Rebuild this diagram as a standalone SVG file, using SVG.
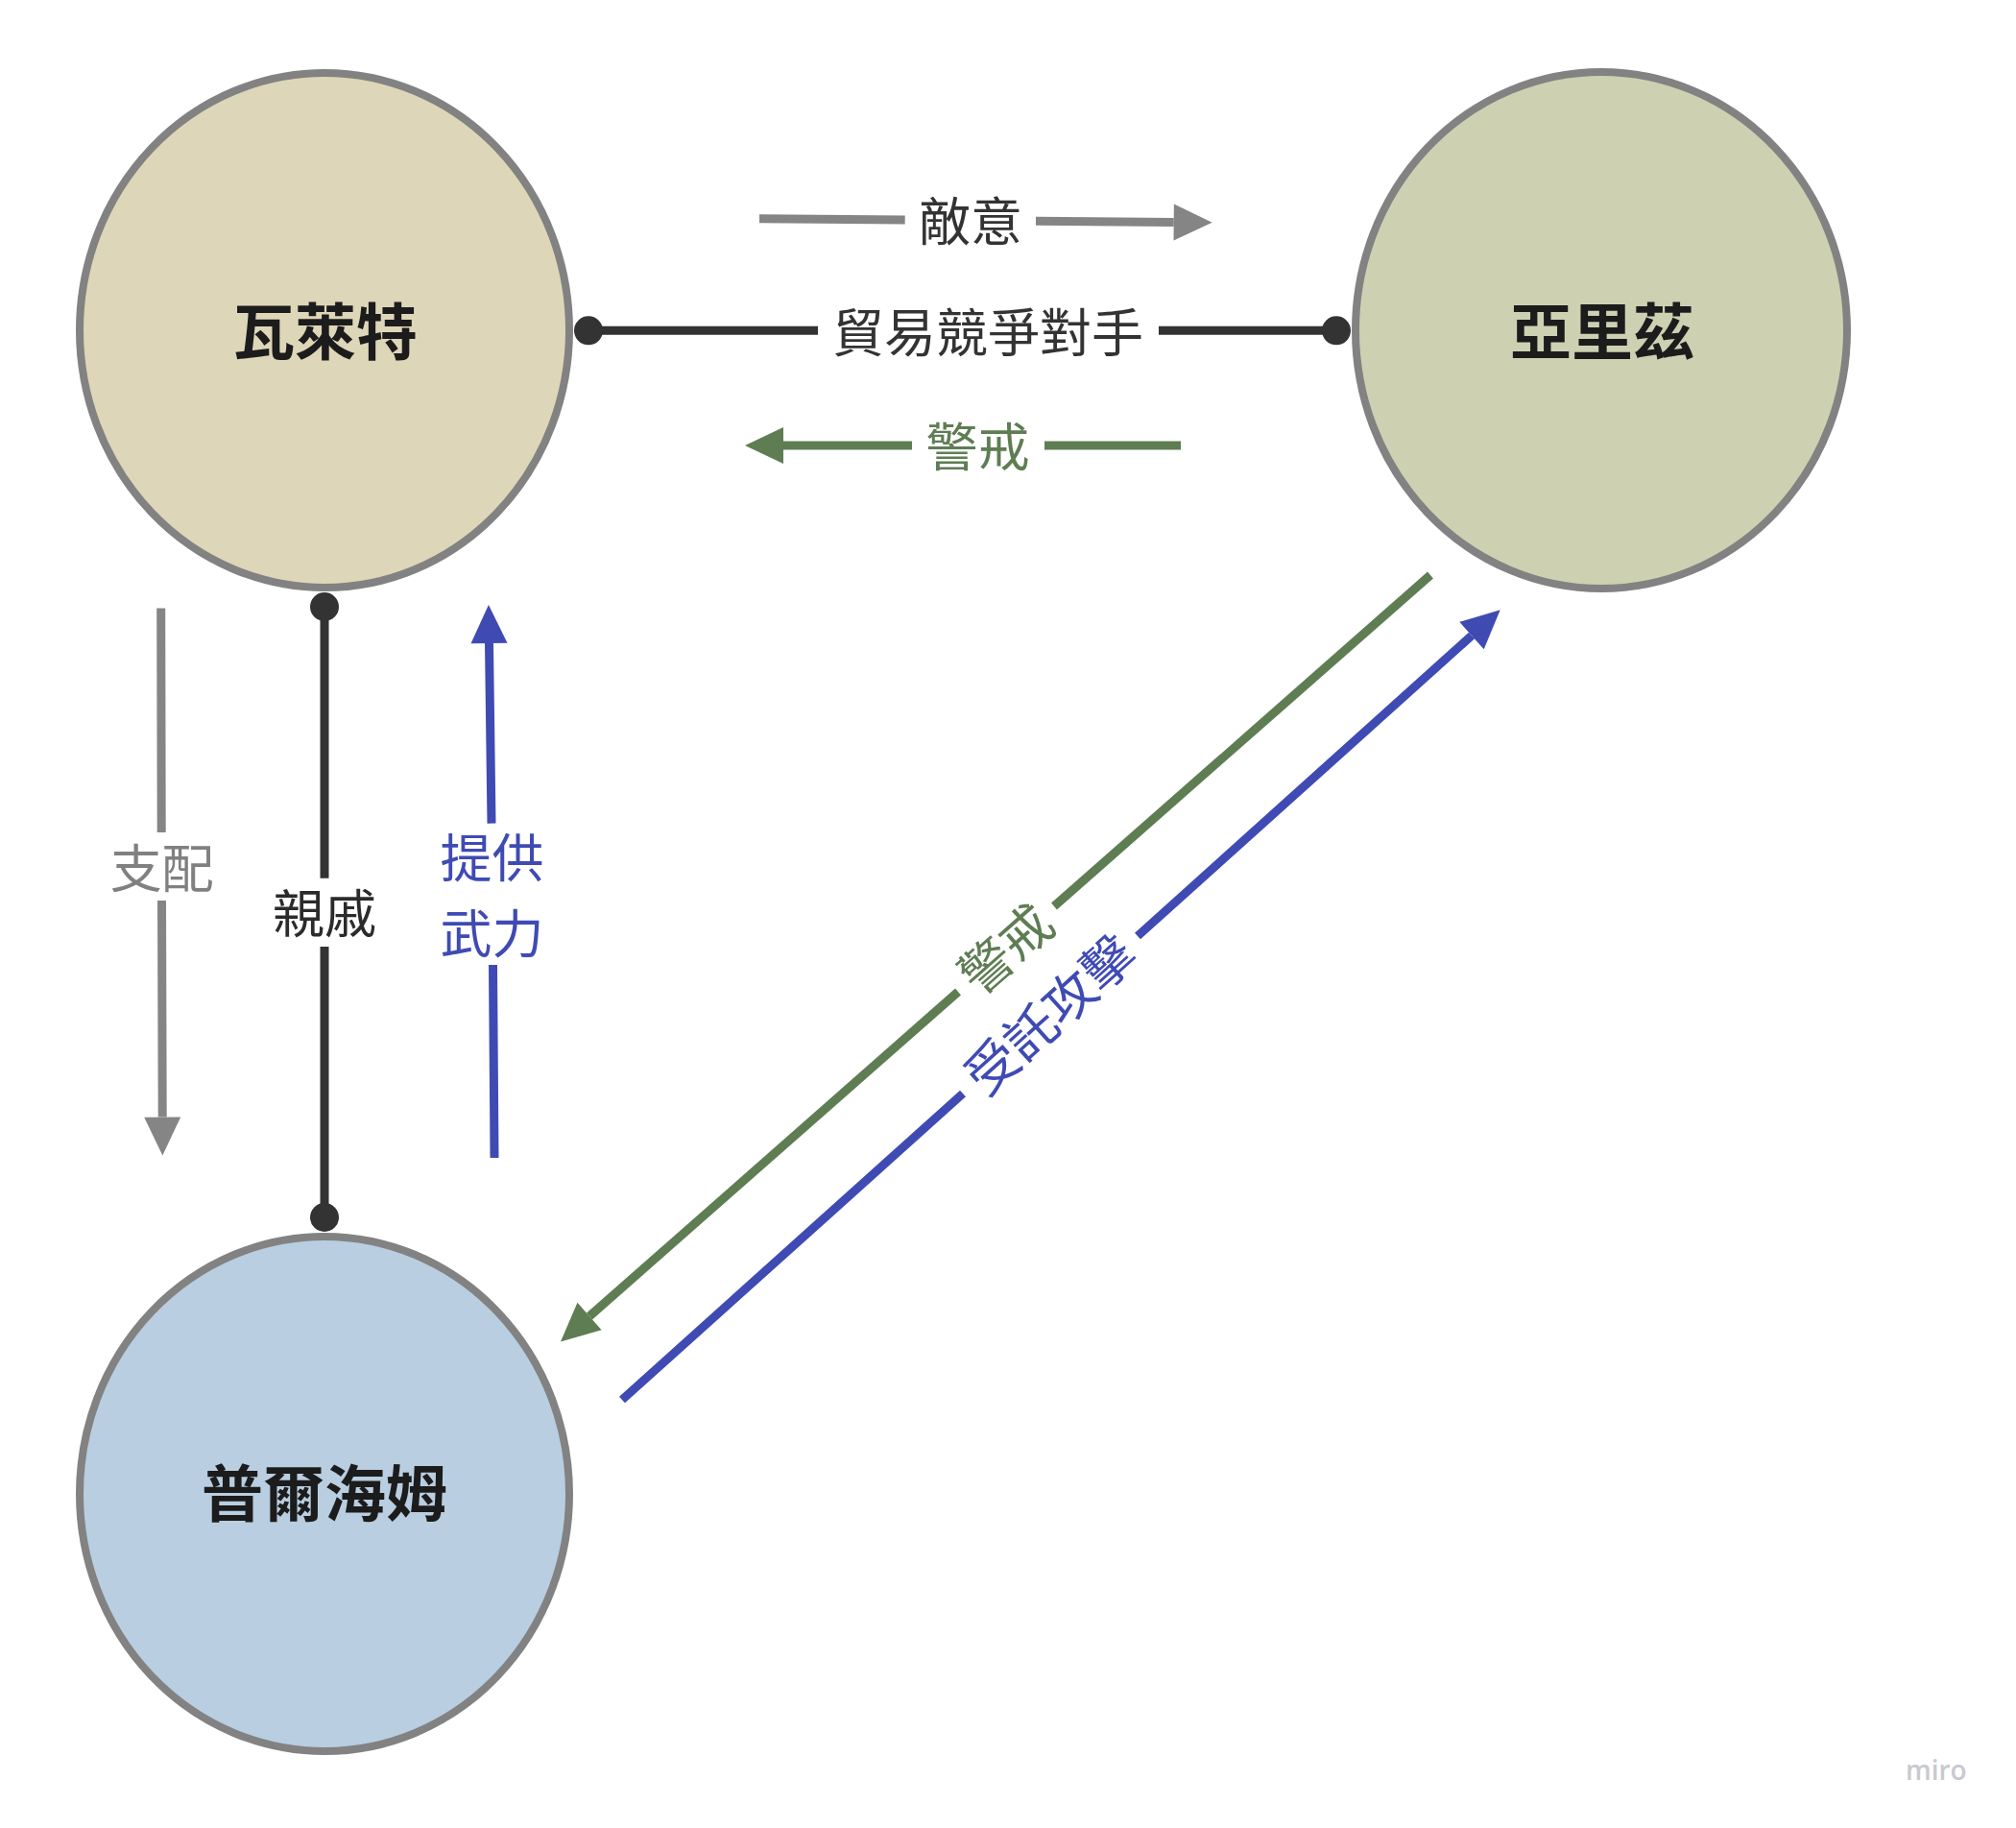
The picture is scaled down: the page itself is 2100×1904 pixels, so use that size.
<svg xmlns="http://www.w3.org/2000/svg" width="2100" height="1904" viewBox="0 0 2100 1904">
<style>
.node{stroke:#828282;stroke-width:8}
.nlabel{font-family:"Noto Sans CJK TC","Noto Sans CJK SC",sans-serif;font-weight:700;font-size:64px;fill:#1c1c1c;text-anchor:middle;dominant-baseline:central}
.clabel{font-family:"Noto Sans CJK TC","Noto Sans CJK SC",sans-serif;font-weight:400;font-size:54px;text-anchor:middle;dominant-baseline:central}
.c{fill:none;stroke-width:9;stroke-linecap:butt}
.gray{stroke:#858585}
.dark{stroke:#333333}
.green{stroke:#5e7d53}
.blue{stroke:#3f4bb3}
</style>
<defs>
<marker id="ah-gray" markerUnits="userSpaceOnUse" viewBox="0 -20 40 40" refX="0" refY="0" markerWidth="40" markerHeight="40" orient="auto" overflow="visible"><path d="M0,-19 L40,0 L0,19 z" fill="#858585"/></marker>
<marker id="ah-green" markerUnits="userSpaceOnUse" viewBox="0 -20 40 40" refX="0" refY="0" markerWidth="40" markerHeight="40" orient="auto" overflow="visible"><path d="M0,-19 L40,0 L0,19 z" fill="#5e7d53"/></marker>
<marker id="ah-blue" markerUnits="userSpaceOnUse" viewBox="0 -20 40 40" refX="0" refY="0" markerWidth="40" markerHeight="40" orient="auto" overflow="visible"><path d="M0,-19 L40,0 L0,19 z" fill="#3f4bb3"/></marker>
</defs>
<rect x="0" y="0" width="2100" height="1904" fill="#ffffff"/>

<g id="node-walter">
<ellipse class="node" cx="338" cy="344" rx="255" ry="268" fill="#ded6b8"/>
<text class="nlabel" x="339" y="341">瓦萊特</text>
</g>
<g id="node-aliz">
<ellipse class="node" cx="1668" cy="344" rx="256" ry="269" fill="#cdd1b2"/>
<text class="nlabel" x="1669" y="341">亞里茲</text>
</g>
<g id="node-prelheim">
<ellipse class="node" cx="338" cy="1556" rx="255" ry="268" fill="#b9cee0"/>
<text class="nlabel" x="338" y="1551">普爾海姆</text>
</g>

<g id="connectors">
<g id="e-hostility">
<path class="c gray" d="M791,227.7 L942.7,229 M1079,230.2 L1222.7,231.4" marker-end="url(#ah-gray)"/>
<text class="clabel" x="1011" y="227" fill="#333333">敵意</text>
</g>
<g id="e-rival">
<path class="c dark" d="M613,344.3 L852,344.3 M1207,344.3 L1392,344.3"/>
<circle cx="613" cy="344.3" r="15" fill="#333333"/>
<circle cx="1392" cy="344.3" r="15" fill="#333333"/>
<text class="clabel" x="1029" y="343" fill="#333333">貿易競爭對手</text>
</g>
<g id="e-wary-h">
<path class="c green" d="M1230,464 L1088,464 M950,464 L816,464" marker-end="url(#ah-green)"/>
<text class="clabel" x="1018.5" y="462.5" fill="#5e7d53">警戒</text>
</g>
<g id="e-dominate">
<path class="c gray" d="M167.7,633.5 L168.2,867 M168.5,938 L169.2,1163.6" marker-end="url(#ah-gray)"/>
<text class="clabel" x="168.7" y="901" fill="#808080">支配</text>
</g>
<g id="e-kin">
<path class="c dark" d="M338,632 L338,914.7 M338,986 L338,1268"/>
<circle cx="338" cy="632" r="15" fill="#333333"/>
<circle cx="338" cy="1268" r="15" fill="#333333"/>
<text class="clabel" x="338" y="948.5" fill="#2b2b2b" font-weight="500">親戚</text>
</g>
<g id="e-force">
<path class="c blue" d="M515,1206 L513.5,1005 M512,857.6 L509.5,670" marker-end="url(#ah-blue)"/>
<text class="clabel" x="512.5" y="890.5" fill="#3f4bb3">提供</text>
<text class="clabel" x="512.5" y="969.5" fill="#3f4bb3">武力</text>
</g>
<g id="e-wary-d">
<path class="c green" d="M1490,599 L1098,944 M998,1033 L614,1371" marker-end="url(#ah-green)"/>
<text class="clabel" x="1045.5" y="985.5" fill="#5e7d53" transform="rotate(-41.4 1045.5 985.5)">警戒</text>
</g>
<g id="e-attack">
<path class="c blue" d="M648,1458 L1003,1139 M1185,975 L1533,662" marker-end="url(#ah-blue)"/>
<text class="clabel" x="1091.5" y="1054" fill="#3f4bb3" transform="rotate(-42 1091.5 1054)">受託攻擊</text>
</g>
</g>

<text x="1985" y="1854" font-family="'Open Sans',sans-serif" font-weight="600" font-size="28" fill="#c9c9d1">miro</text>
</svg>
